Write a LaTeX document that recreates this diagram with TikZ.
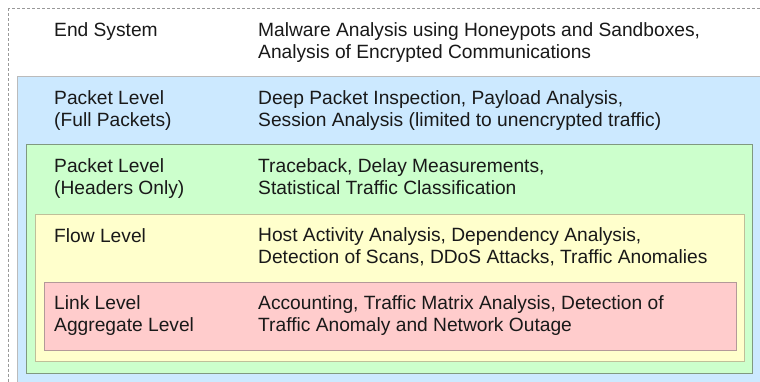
\documentclass[tikz,border=0pt]{standalone}
\usepackage{fontspec}
\setmainfont{Liberation Sans}
\definecolor{bluefill}{HTML}{CCE9FF}
\definecolor{blueline}{HTML}{BBBBBB}
\definecolor{greenfill}{HTML}{CCFFCC}
\definecolor{greenline}{HTML}{809980}
\definecolor{yellowfill}{HTML}{FFFFCC}
\definecolor{yellowline}{HTML}{BFBF99}
\definecolor{redfill}{HTML}{FFCCCC}
\definecolor{redline}{HTML}{B39999}
\definecolor{outerline}{HTML}{999999}
\begin{document}
\begin{tikzpicture}[x=1pt,y=-1pt,
  lbl/.style={anchor=base west,inner sep=0pt,align=left,
    font=\fontsize{19.2}{21.7}\selectfont,text=black!90},
  levelbox/.style={line width=1pt}]
\useasboundingbox (0,0) rectangle (760,382);
\clip (0,0) rectangle (760,382);
\fill[white] (0,0) rectangle (760,382);
\draw[outerline,dash pattern=on 3pt off 2pt,line width=0.8pt] (8.5,8.5) rectangle (800,420);
\draw[levelbox,fill=bluefill,draw=blueline] (17.5,77) rectangle (800,420);
\draw[levelbox,fill=greenfill,draw=greenline] (26.5,145) rectangle (752,373);
\draw[levelbox,fill=yellowfill,draw=yellowline] (35.5,214.5) rectangle (744,361);
\draw[levelbox,fill=redfill,draw=redline] (44.5,282) rectangle (736,350);

% base anchor = baseline of the last line
\node[lbl] (l1) at (54,37) {End System};
\node[lbl] (r1) at (258,58.5) {Malware Analysis using Honeypots and Sandboxes,\\Analysis of Encrypted Communications};
\node[lbl] (l2) at (54,126.5) {Packet Level\\(Full Packets)};
\node[lbl] (r2) at (258,126.5) {Deep Packet Inspection, Payload Analysis,\\Session Analysis (limited to unencrypted traffic)};
\node[lbl] (l3) at (54,194.5) {Packet Level\\(Headers Only)};
\node[lbl] (r3) at (258,194.5) {Traceback, Delay Measurements,\\Statistical Traffic Classification};
\node[lbl] (l4) at (54,242) {Flow Level};
\node[lbl] (r4) at (258,263.5) {Host Activity Analysis, Dependency Analysis,\\Detection of Scans, DDoS Attacks, Traffic Anomalies};
\node[lbl] (l5) at (54,331.5) {Link Level\\Aggregate Level};
\node[lbl] (r5) at (258,331.5) {Accounting, Traffic Matrix Analysis, Detection of\\Traffic Anomaly and Network Outage};
\end{tikzpicture}
\end{document}
